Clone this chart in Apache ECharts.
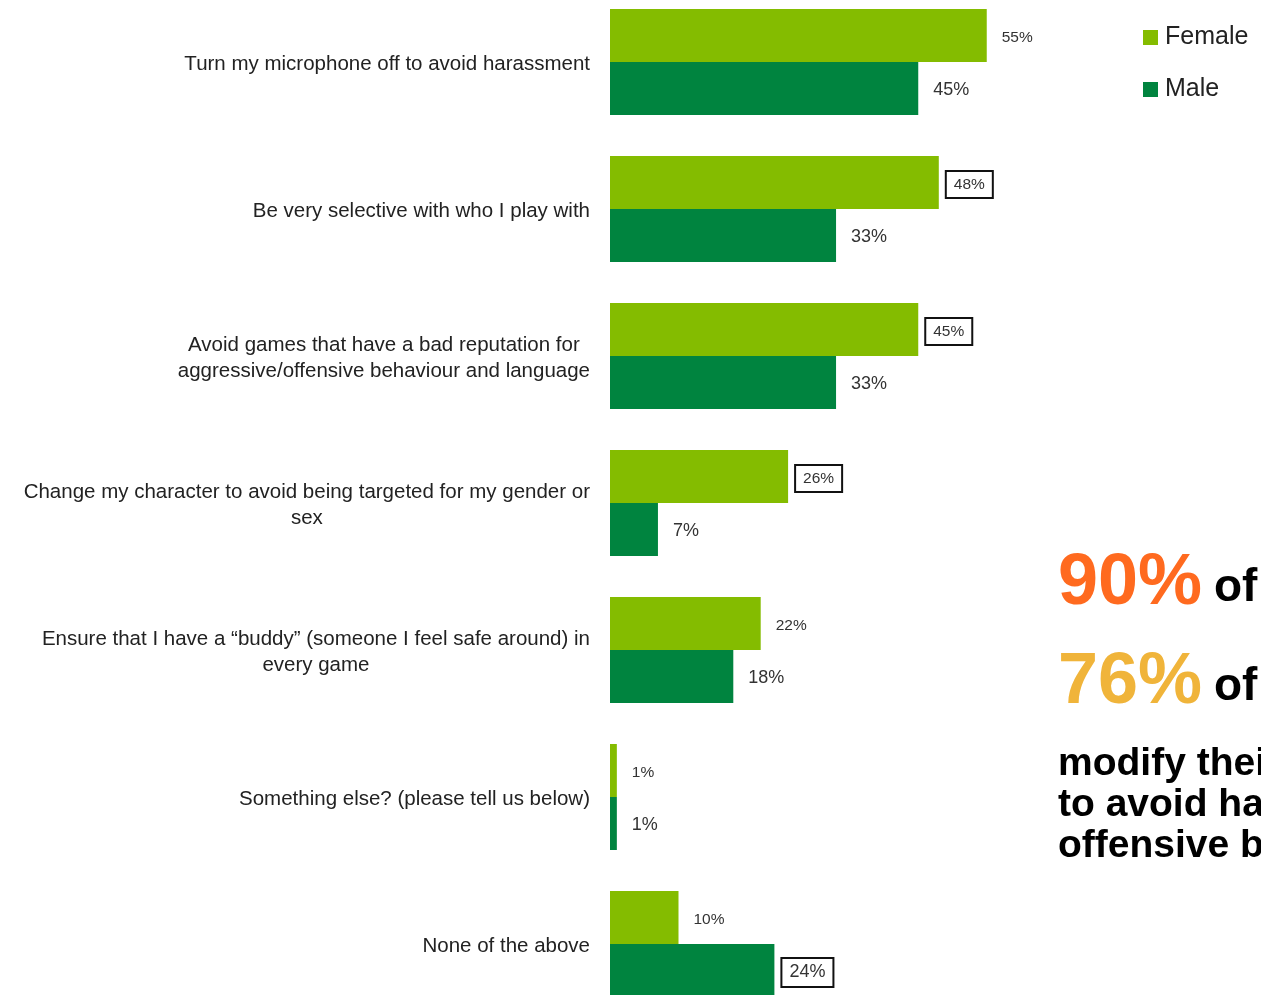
<!DOCTYPE html>
<html>
<head>
<meta charset="utf-8">
<script src="https://cdn.jsdelivr.net/npm/echarts@6/dist/echarts.min.js"></script>
<style>
  html, body { margin: 0; padding: 0; background: #fff; }
  #chart { width: 1261px; height: 995px; }
</style>
</head>
<body>
<div id="chart"></div>
<script>
// Survey answers: what players do to avoid harassment, by gender (%)
const categories = [
  'Turn my microphone off to avoid harassment',
  'Be very selective with who I play with',
  'Avoid games that have a bad reputation for\naggressive/offensive behaviour and language',
  'Change my character to avoid being targeted for my gender or\nsex',
  'Ensure that I have a \u201cbuddy\u201d (someone I feel safe around) in\nevery game',
  'Something else? (please tell us below)',
  'None of the above'
];
const femaleValues = [55, 48, 45, 26, 22, 1, 10];
const maleValues = [45, 33, 33, 7, 18, 1, 24];
// answers whose value is called out with a frame
const femaleCallouts = [1, 2, 3];
const maleCallouts = [6];

const FONT = '"Liberation Sans", Arial, sans-serif';
const FEMALE = '#84BC00';
const MALE = '#00843F';

function buildData(values, callouts) {
  return values.map((v, i) => callouts.includes(i)
    ? { value: v, label: { borderColor: '#111', borderWidth: 2 } }
    : v);
}

// category text: every line centred within the block
function categoryLabel(text) {
  return text.split('\n').map(l => '{c|' + l + '}').join('\n');
}

const chart = echarts.init(document.getElementById('chart'));
chart.setOption({
  animation: false,
  textStyle: { fontFamily: FONT },
  grid: {
    left: 610, top: -11.5, width: 411, height: 1029,
    outerBoundsMode: 'none', containLabel: false
  },
  legend: {
    orient: 'vertical',
    left: 1143,
    top: 25,
    padding: 0,
    itemWidth: 15,
    itemHeight: 15,
    itemGap: 27,
    icon: 'rect',
    textStyle: { fontSize: 25, color: '#222', fontFamily: FONT, padding: [0, 0, 0, 2] },
    data: ['Female', 'Male']
  },
  xAxis: {
    type: 'value', min: 0, max: 60, show: false
  },
  yAxis: {
    type: 'category',
    inverse: true,
    data: categories,
    axisLine: { show: false },
    axisTick: { show: false },
    axisLabel: {
      margin: 20,
      color: '#222',
      fontSize: 20.5,
      lineHeight: 26,
      padding: [4, 0, 0, 0],
      formatter: categoryLabel,
      rich: { c: { align: 'center', fontSize: 20.5, lineHeight: 26, color: '#222', fontFamily: FONT } }
    }
  },
  series: [
    {
      name: 'Female', type: 'bar', barWidth: 53, barGap: '0%',
      itemStyle: { color: FEMALE },
      data: buildData(femaleValues, femaleCallouts),
      label: {
        show: true, position: 'right', distance: 7, padding: [6, 8, 5, 8], offset: [0, 2],
        formatter: '{c}%', fontSize: 15.5, color: '#333', fontFamily: FONT
      }
    },
    {
      name: 'Male', type: 'bar', barWidth: 53, barGap: '0%',
      itemStyle: { color: MALE },
      data: buildData(maleValues, maleCallouts),
      label: {
        show: true, position: 'right', distance: 7, padding: [6, 8, 5, 8], offset: [0, 2],
        formatter: '{c}%', fontSize: 18, color: '#333', fontFamily: FONT
      }
    }
  ],
  graphic: [
    { type: 'text', left: 1058, top: 548, style: { text: '90%', font: 'bold 72px ' + FONT, fill: '#FF6A1F' } },
    { type: 'text', left: 1214, top: 565, style: { text: 'of', font: 'bold 46px ' + FONT, fill: '#000' } },
    { type: 'text', left: 1058, top: 647, style: { text: '76%', font: 'bold 72px ' + FONT, fill: '#F0B43A' } },
    { type: 'text', left: 1214, top: 664, style: { text: 'of', font: 'bold 46px ' + FONT, fill: '#000' } },
    { type: 'text', left: 1058, top: 744, style: {
      text: 'modify their behaviour\nto avoid harassment and\noffensive behaviour',
      font: 'bold 39px ' + FONT, lineHeight: 41, fill: '#000' } }
  ]
});
</script>
</body>
</html>
